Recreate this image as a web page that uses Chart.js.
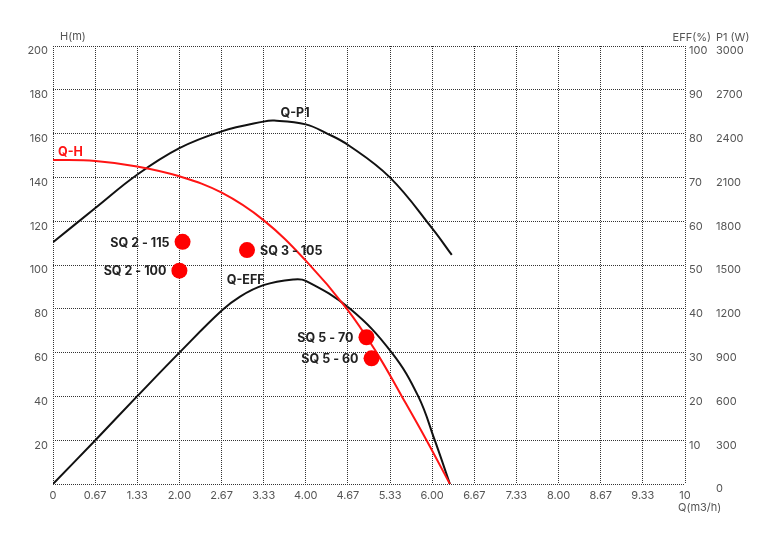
<!DOCTYPE html>
<html>
<head>
  <title>Pump curve</title>
  <script src="https://cdn.jsdelivr.net/npm/chart.js"></script>
  <style>
    body { margin: 0; background: #fff; }
    canvas { display: block; }
  </style>
</head>
<body>
  <canvas id="pumpChart" width="768" height="544"></canvas>
  <script>
    // Q-H curve (flow m3/h, head m)
    var qhFlow = [0, 0.67, 1.33, 2.0, 2.67, 3.33, 4.0, 4.65, 5.12, 5.52, 5.91, 6.28];
    var qhHead = [148, 147.5, 145, 140.5, 133, 120.5, 102, 80, 60, 40, 20, 0];

    // Q-P1 curve (flow, power W)
    var p1Flow = [0, 0.67, 1.33, 2.0, 2.67, 3.33, 3.5, 4.0, 4.33, 4.67, 5.33, 6.0, 6.31];
    var p1Power = [1656, 1890, 2118, 2300, 2415, 2482, 2489, 2463, 2402, 2322, 2100, 1751, 1569];

    // Q-EFF curve (flow, efficiency %)
    var effFlow = [0, 0.67, 1.33, 2.0, 2.67, 2.96, 3.33, 3.8, 4.0, 4.7, 5.36, 5.78, 6.04, 6.28];
    var effValue = [0, 10, 20, 30, 39.6, 42.8, 45.4, 46.7, 46.4, 40, 30, 20, 10, 0];

    // pump models
    var modelNames = ['SQ 2 - 115', 'SQ 2 - 100', 'SQ 3 - 105', 'SQ 5 - 70', 'SQ 5 - 60'];
    var modelFlow = [2.05, 2.0, 3.07, 4.96, 5.04];
    var modelHead = [110.6, 97.4, 106.8, 67, 57.4];

    function toPoints(xs, ys) {
      var out = [];
      for (var i = 0; i < xs.length; i++) out.push({ x: xs[i], y: ys[i] });
      return out;
    }

    var FONT = 'Inter, "Noto Sans", Arial, sans-serif';
    var TICK_COLOR = '#555';
    var GRID_COLOR = '#333';

    // label side for each model (right for SQ 3 - 105)
    var rightLabels = { 'SQ 3 - 105': true };

    var textPlugin = {
      id: 'texts',
      afterDatasetsDraw: function(chart) {
        var ctx = chart.ctx;
        var sx = chart.scales.x, sy = chart.scales.y, sp = chart.scales.yP;
        var area = chart.chartArea;
        ctx.save();

        // axis titles
        ctx.font = '11px ' + FONT;
        ctx.fillStyle = TICK_COLOR;
        ctx.textBaseline = 'middle';
        ctx.textAlign = 'left';
        ctx.fillText('H(m)', area.left + 7, 37);
        ctx.fillText('P1 (W)', sp.left, 38);
        ctx.fillText('Q(m3/h)', area.right - 7, area.bottom + 24);
        ctx.textAlign = 'right';
        ctx.fillText('EFF(%)', sp.left - 5, 38);

        // curve names
        ctx.font = 'bold 12.5px ' + FONT;
        ctx.textAlign = 'left';
        ctx.fillStyle = 'rgb(255,20,20)';
        ctx.fillText('Q-H', sx.getPixelForValue(0.08), sy.getPixelForValue(151.6));
        ctx.fillStyle = '#222';
        ctx.fillText('Q-P1', sx.getPixelForValue(3.6), sy.getPixelForValue(169.4));
        ctx.fillText('Q-EFF', sx.getPixelForValue(2.75), sy.getPixelForValue(93.2));

        // model labels
        for (var i = 0; i < modelNames.length; i++) {
          var px = sx.getPixelForValue(modelFlow[i]);
          var py = sy.getPixelForValue(modelHead[i]);
          if (rightLabels[modelNames[i]]) {
            ctx.textAlign = 'left';
            ctx.fillText(modelNames[i], px + 13, py + 1);
          } else {
            ctx.textAlign = 'right';
            ctx.fillText(modelNames[i], px - 13, py + 1);
          }
        }
        ctx.restore();
      }
    };

    var pumpChart = new Chart(document.getElementById('pumpChart'), {
      type: 'scatter',
      data: {
        datasets: [{
          label: 'Models',
          data: toPoints(modelFlow, modelHead),
          yAxisID: 'y',
          backgroundColor: 'rgb(255,0,0)',
          borderWidth: 0,
          pointRadius: 8
        }, {
          type: 'line',
          label: 'Q-H',
          data: toPoints(qhFlow, qhHead),
          yAxisID: 'y',
          borderColor: 'rgb(255,20,20)',
          borderWidth: 2,
          pointRadius: 0,
          tension: 0.4,
          fill: false
        }, {
          type: 'line',
          label: 'Q-P1',
          data: toPoints(p1Flow, p1Power),
          yAxisID: 'yP',
          borderColor: '#111',
          borderWidth: 2,
          pointRadius: 0,
          tension: 0.4,
          fill: false
        }, {
          type: 'line',
          label: 'Q-EFF',
          data: toPoints(effFlow, effValue),
          yAxisID: 'yEff',
          borderColor: '#111',
          borderWidth: 2,
          pointRadius: 0,
          tension: 0.4,
          fill: false
        }]
      },
      options: {
        responsive: false,
        animation: false,
        layout: { padding: { left: 0, top: 46, right: 0, bottom: 0 } },
        plugins: { legend: { display: false }, tooltip: { enabled: false } },
        scales: {
          x: {
            type: 'linear',
            min: 0,
            max: 10,
            afterBuildTicks: function(scale) {
              var t = [];
              for (var i = 0; i <= 15; i++) t.push({ value: i * 10 / 15 });
              scale.ticks = t;
            },
            afterFit: function(scale) { scale.height = 60; },
            ticks: {
              padding: 5,
              color: TICK_COLOR,
              font: { family: FONT, size: 11 },
              callback: function(v) {
                if (v === 0) return '0';
                if (Math.abs(v - 10) < 1e-9) return '10';
                return v.toFixed(2);
              }
            },
            grid: { color: GRID_COLOR, lineWidth: 1, drawTicks: false },
            border: { display: false, dash: [1, 1] }
          },
          y: {
            position: 'left',
            min: 0,
            max: 200,
            afterFit: function(scale) { scale.width = 53; },
            ticks: {
              stepSize: 20,
              padding: 5,
              labelOffset: 5,
              color: TICK_COLOR,
              font: { family: FONT, size: 11 },
              callback: function(v) { return v === 0 ? '' : String(v); }
            },
            grid: { color: GRID_COLOR, lineWidth: 1, drawTicks: false },
            border: { display: false, dash: [1, 1] }
          },
          yEff: {
            position: 'right',
            min: 0,
            max: 100,
            afterFit: function(scale) { scale.width = 31; },
            ticks: {
              stepSize: 10,
              padding: 4,
              labelOffset: 5,
              color: TICK_COLOR,
              font: { family: FONT, size: 11 },
              callback: function(v) { return v === 0 ? '' : String(v); }
            },
            grid: { display: false, drawTicks: false },
            border: { display: false }
          },
          yP: {
            position: 'right',
            min: 0,
            max: 3000,
            afterFit: function(scale) { scale.width = 52; },
            ticks: {
              stepSize: 300,
              padding: 0,
              labelOffset: 5,
              color: TICK_COLOR,
              font: { family: FONT, size: 11 },
              callback: function(v) { return String(v); }
            },
            grid: { display: false, drawTicks: false },
            border: { display: false }
          }
        }
      },
      plugins: [textPlugin]
    });
  </script>
</body>
</html>
